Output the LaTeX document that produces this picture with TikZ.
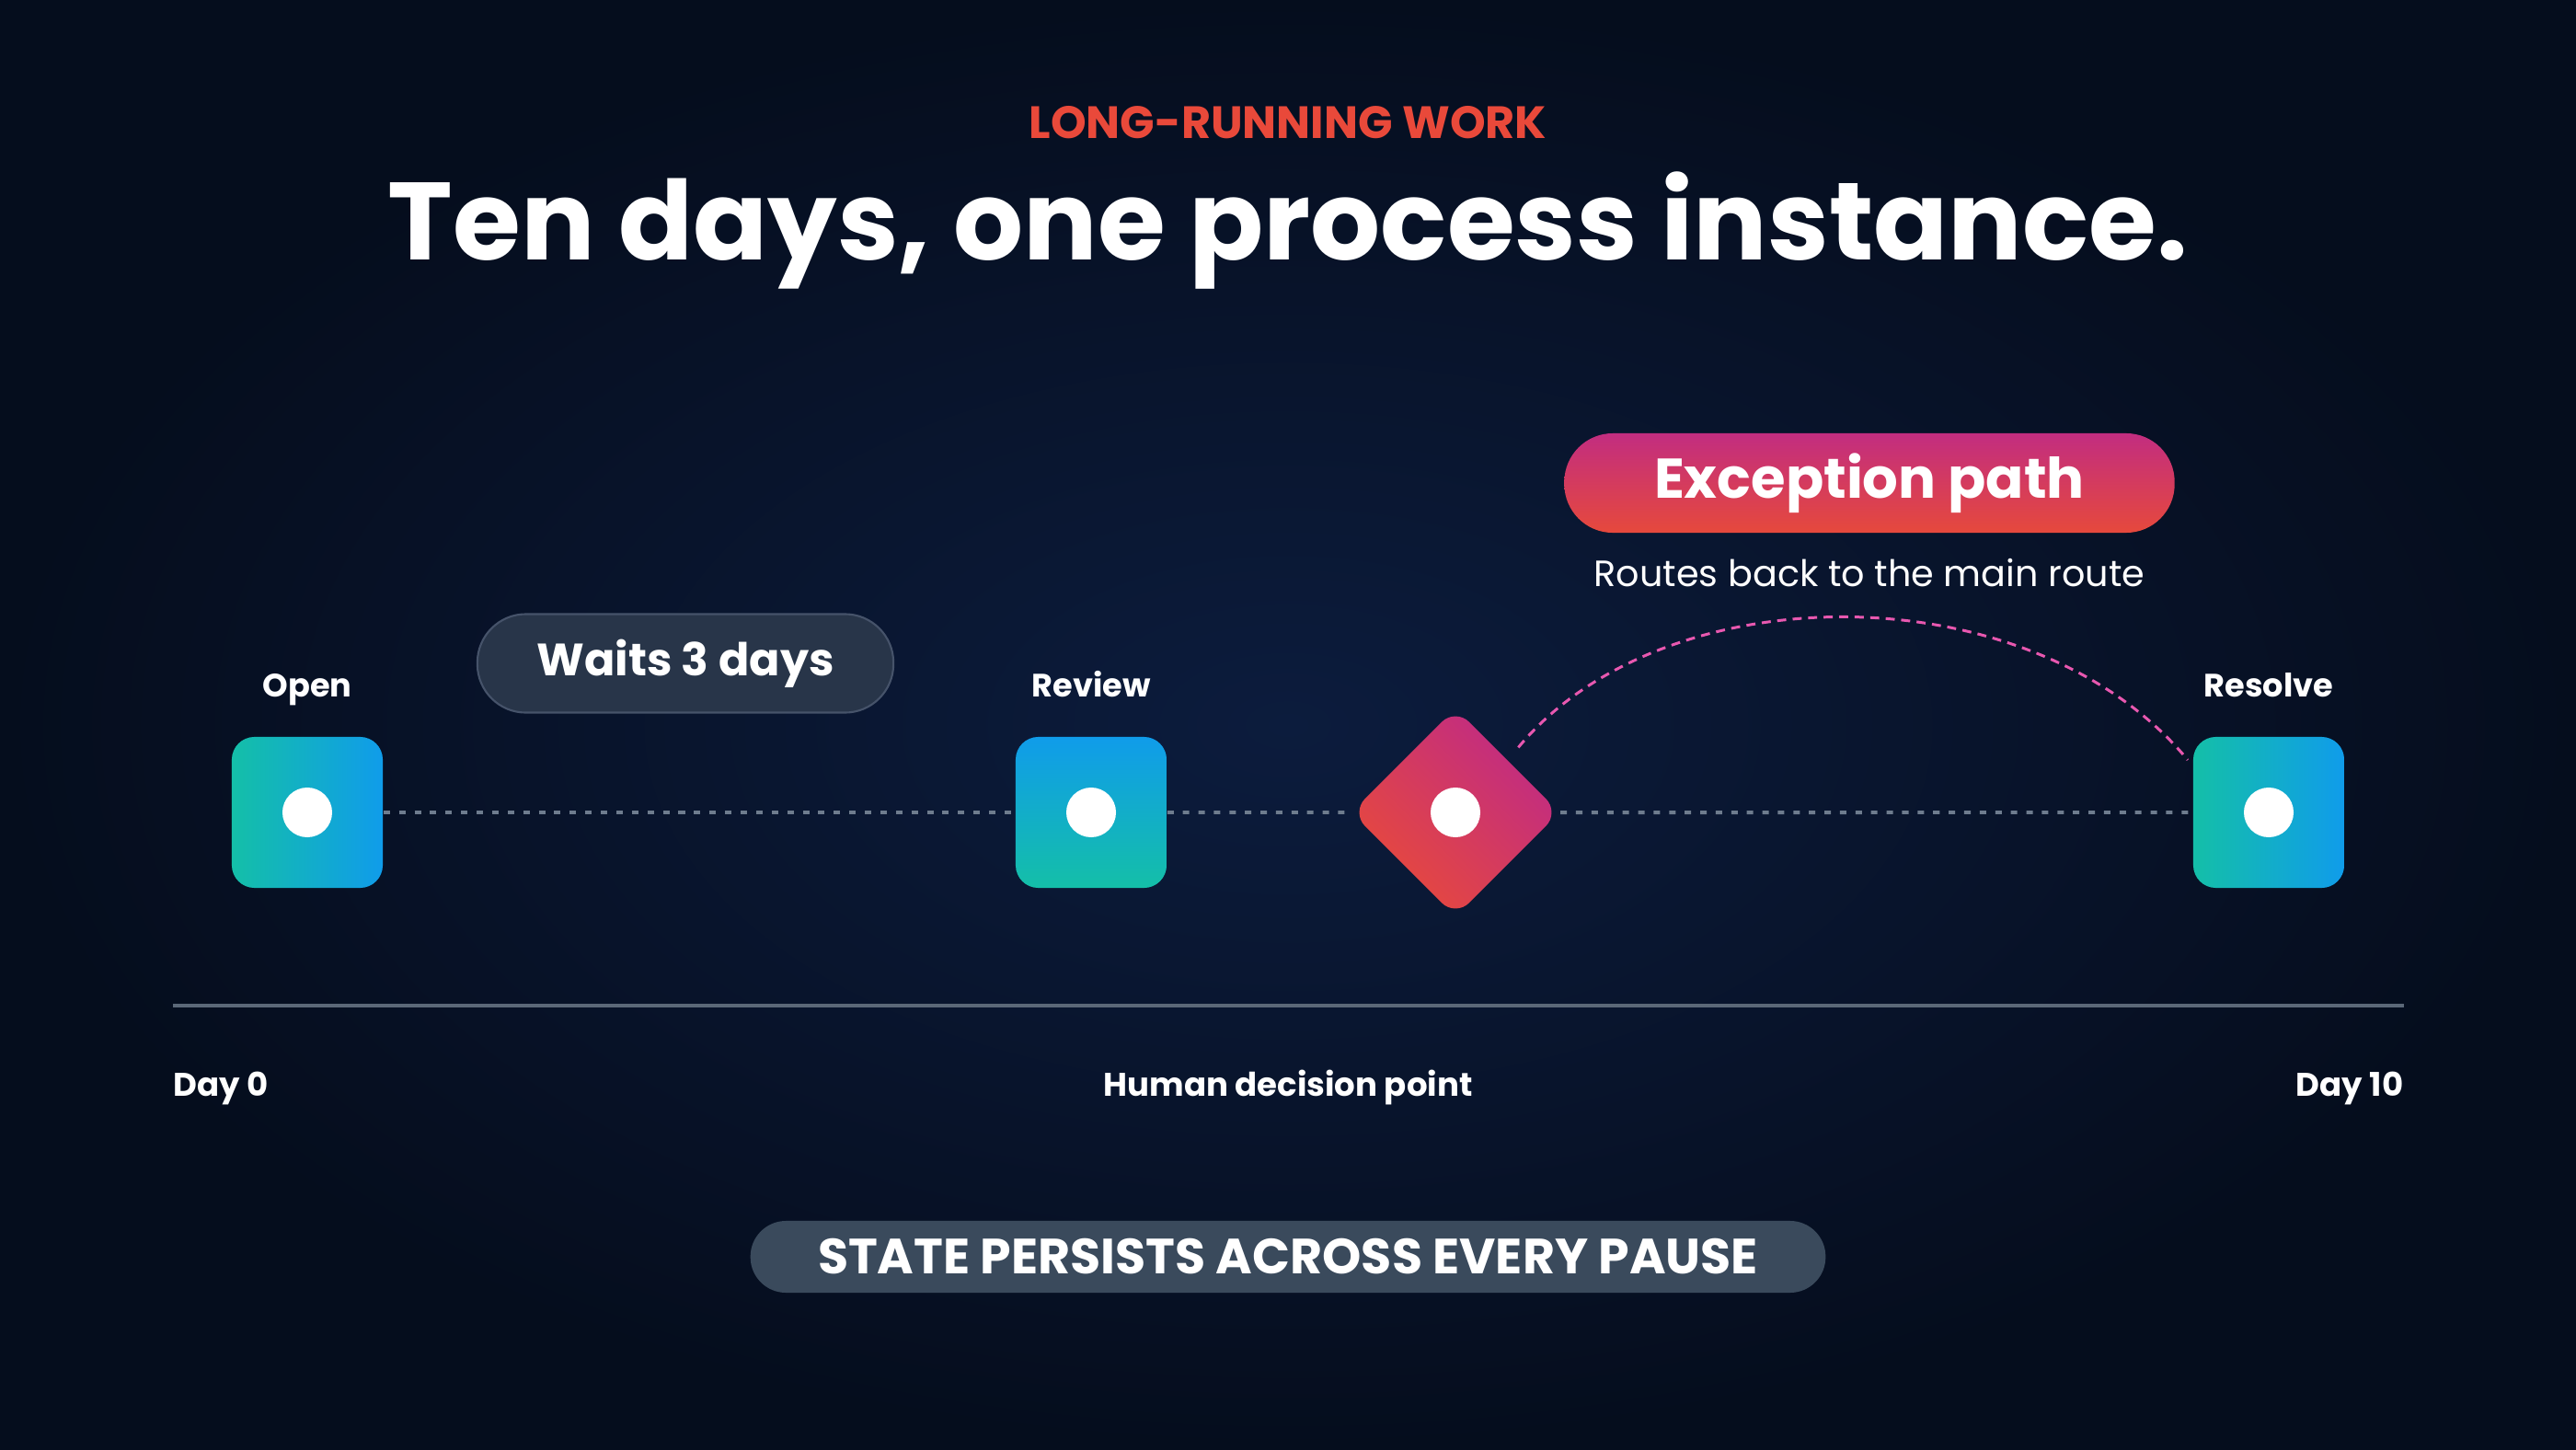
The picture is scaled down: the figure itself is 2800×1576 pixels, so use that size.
\documentclass[tikz,border=0pt]{standalone}
\usepackage{fontspec}
\setmainfont{Poppins}
\usetikzlibrary{positioning}
\definecolor{bgmid}{HTML}{0C1C3D}
\definecolor{bgedge}{HTML}{050D1D}
\definecolor{kickercolor}{HTML}{E9493A}
\definecolor{taskteal}{HTML}{14BFA8}
\definecolor{taskblue}{HTML}{109CEA}
\definecolor{gatered}{HTML}{E84A3A}
\definecolor{gatemagenta}{HTML}{BF2A86}
\definecolor{waitgray}{HTML}{6E7C8E}
\definecolor{axisgray}{HTML}{5B6878}
\definecolor{pillfill}{HTML}{283549}
\definecolor{pillborder}{HTML}{46536A}
\definecolor{statefill}{HTML}{3A4A5C}
\definecolor{arcpink}{HTML}{E858B0}
\definecolor{exceptiontop}{HTML}{C22D80}
\definecolor{exceptionbottom}{HTML}{E6493C}
\tikzset{
    kicker text/.style = {inner sep=0pt, text=kickercolor, font=\fontsize{14}{16}\selectfont\bfseries},
    title text/.style = {inner sep=0pt, text=white, font=\fontsize{34}{40}\selectfont\bfseries},
    task/.style = {rectangle, rounded corners=7pt, minimum size=1.64cm, inner sep=0pt},
    gateway/.style = {rectangle, rotate=45, rounded corners=6pt, minimum size=1.6cm, inner sep=0pt,
        top color=gatemagenta, bottom color=gatered, shading angle=-45},
    dot/.style = {circle, fill=white, minimum size=0.54cm, inner sep=0pt},
    task label/.style = {inner sep=0pt, text depth=0pt, text=white, font=\fontsize{10}{12}\selectfont\bfseries},
    wait line/.style = {draw=waitgray, line width=1.1pt, dash pattern=on 2pt off 2.8pt},
    exception line/.style = {draw=arcpink, line width=0.85pt, dash pattern=on 2.8pt off 2pt},
    wait pill/.style = {rectangle, rounded corners=15pt, fill=pillfill, draw=pillborder, line width=0.6pt,
        minimum width=4.52cm, minimum height=1.07cm, text=white, font=\fontsize{14}{17}\selectfont\bfseries},
    exception pill/.style = {rectangle, rounded corners=15pt, top color=exceptiontop, bottom color=exceptionbottom,
        minimum width=6.63cm, minimum height=1.08cm, text=white, font=\fontsize{17.3}{20}\selectfont\bfseries},
    note text/.style = {inner sep=0pt, text=white, font=\fontsize{11.3}{13}\selectfont},
    timeline/.style = {draw=axisgray, line width=1.4pt},
    axis text/.style = {inner sep=0pt, text=white, font=\fontsize{10.1}{12}\selectfont\bfseries},
    state pill/.style = {rectangle, rounded corners=11pt, fill=statefill, minimum width=11.68cm,
        minimum height=0.78cm, text=white, font=\fontsize{15.3}{18}\selectfont\bfseries}
}
\begin{document}
\begin{tikzpicture}[x=0.01cm, y=-0.01cm]
    % background
    \useasboundingbox (0,0) rectangle (2800,1576);
    \shade[inner color=bgmid, outer color=bgedge] (0,0) rectangle (2800,1576);
    % headings
    \node[kicker text, anchor=base] (kicker) at (1400,150) {LONG-RUNNING WORK};
    \node[title text, anchor=base] (title) at (1400,282) {Ten days, one process instance.};
    % draw tasks and gateway
    \node[task, left color=taskteal, right color=taskblue] (open) at (334,883) {};
    \node[task, top color=taskblue, bottom color=taskteal] (review) at (1186,883) {};
    \node[gateway] (decision) at (1582,883) {};
    \node[task, left color=taskteal, right color=taskblue] (resolve) at (2466,883) {};
    \foreach \task in {open, review, decision, resolve}
        \node[dot] (\task dot) at (\task.center) {};
    % task labels
    \node[task label, above=0.42cm of open] (open label) {Open};
    \node[task label, above=0.42cm of review] (review label) {Review};
    \node[task label, above=0.42cm of resolve] (resolve label) {Resolve};
    % draw waiting lines
    \draw[wait line] (open) -- (review);
    \draw[wait line] (review) -- (decision);
    \draw[wait line] (decision) -- (resolve);
    % pills
    \node[wait pill] (wait) at (745,721) {Waits 3 days};
    \node[exception pill] (exception) at (2032,525) {Exception path};
    \node[note text, anchor=base] (exception note) at (2032,637) {Routes back to the main route};
    % draw exception arc
    \coordinate (arc end) at (2378,826);
    \draw[exception line, shorten <=5pt] (decision.east) .. controls +(170,-205) and +(-170,-205) .. (arc end);
    % draw time axis
    \coordinate (day0) at (188,1093);
    \coordinate (day10) at (2613,1093);
    \draw[timeline] (day0) -- (day10);
    \node[axis text, anchor=base west] (day0 label) at (188,1191) {Day 0};
    \node[axis text, anchor=base] (decision label) at (1400,1191) {Human decision point};
    \node[axis text, anchor=base east] (day10 label) at (2613,1191) {Day 10};
    % bottom banner
    \node[state pill] (state) at (1400,1366) {STATE PERSISTS ACROSS EVERY PAUSE};
\end{tikzpicture}
\end{document}
